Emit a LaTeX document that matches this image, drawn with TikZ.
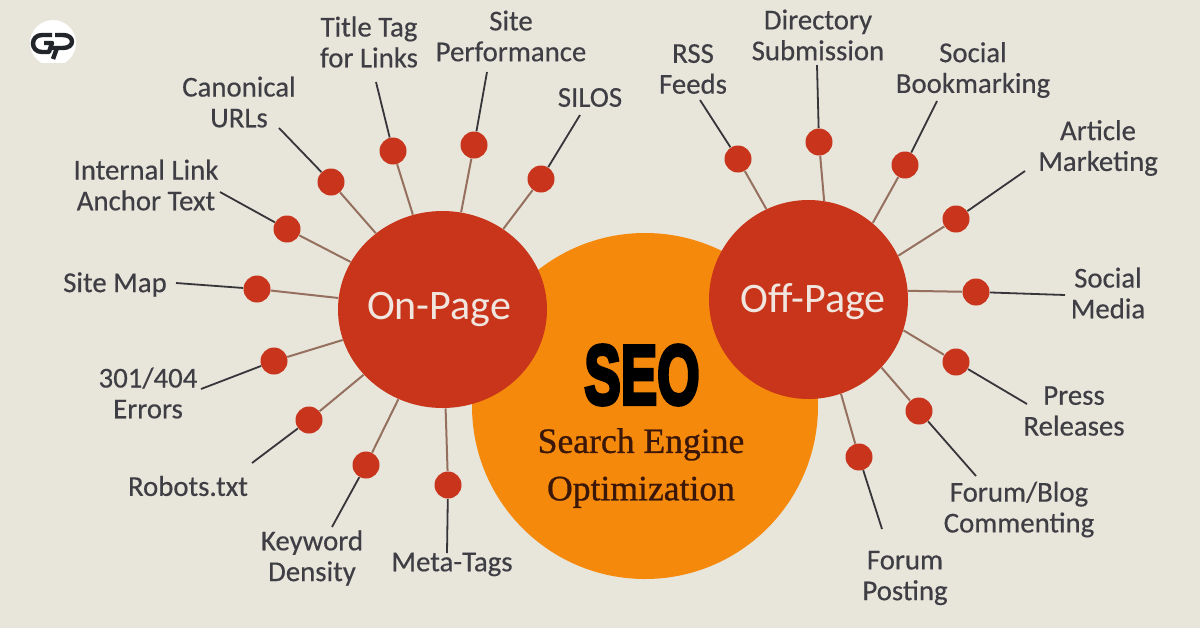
\documentclass[tikz,border=0pt]{standalone}
\usepackage{fontspec}
\usetikzlibrary{shapes.geometric}
\setmainfont[FakeBold=0.4]{Carlito}
\newfontfamily\hubfont{Carlito}
\newfontfamily\seofont[BoldFeatures={FakeBold=5}]{Liberation Sans}
\newfontfamily\titlefont[FakeBold=0.8]{Liberation Serif}
\definecolor{pagebg}{HTML}{E8E5DB}
\definecolor{hubred}{HTML}{C9351A}
\definecolor{seoorange}{HTML}{F5890C}
\definecolor{dotred}{HTML}{C8351C}
\definecolor{spokebrown}{HTML}{96705F}
\definecolor{leadergray}{HTML}{35353A}
\definecolor{labelgray}{HTML}{3E3E44}
\definecolor{logoblack}{HTML}{22252A}
\definecolor{hubtext}{HTML}{F0E6DF}
\definecolor{subbrown}{HTML}{3A1708}
\newcommand{\spokeleaf}[6]{
  \node[spokedot] (dot-#2) at (#3) {};
  \coordinate (end-#2) at (#4);
  \node[leaflabel] (label-#2) at (#5) {#6};
  \draw[spoke] (#1) -- (dot-#2);
  \draw[leader] (dot-#2) -- (end-#2);
}
\begin{document}
\begin{tikzpicture}[
        x=0.5pt,
        y=-0.5pt,
        hub/.style={ellipse,fill=hubred,inner sep=0pt},
        hubtextstyle/.style={text=hubtext,inner sep=0pt,font=\hubfont\fontsize{21}{24}\selectfont},
        spokedot/.style={circle,fill=dotred,inner sep=0pt,minimum size=13.5pt},
        spoke/.style={draw=spokebrown,line width=1pt},
        leader/.style={draw=leadergray,line width=0.9pt},
        leaflabel/.style={text=labelgray,align=center,inner sep=0pt,font=\fontsize{14.4}{15.4}\selectfont},
        logoline/.style={draw=logoblack,line width=2.2pt,line join=round}
      ]
        \fill[pagebg] (0,0) rectangle (1200,628);
        \begin{scope}
          \clip (0,0) rectangle (1200,62);
          \fill[white] (53,43) circle[radius=23];
        \end{scope}
        \draw[logoline] (52,35) -- (42,35) .. controls (30,35) and (30,52) .. (42,52) -- (49,52) -- (52,43) -- (44,43);
        \draw[logoline] (55,35) -- (63,35) .. controls (75,35) and (75,48) .. (63,48) -- (52,48);
        \draw[logoline] (57,48) -- (53,59);
        \node[circle,fill=seoorange,inner sep=0pt,minimum size=173pt] (seo) at (645,406) {};
        \node[hub,minimum width=104.5pt,minimum height=98.5pt] (onpage) at (442.5,309.5) {};
        \node[hub,minimum width=99.5pt,minimum height=99.5pt] (offpage) at (808.5,299.5) {};
        \node[hubtextstyle] (onpagetext) at (439,309) {On-Page};
        \node[hubtextstyle] (offpagetext) at (813,302) {Off-Page};
        \node[inner sep=0pt,font=\seofont\bfseries\fontsize{42}{44}\selectfont,xscale=0.65,text=black] (seotitle) at (642,375) {SEO};
        \node[inner sep=0pt,align=center,text=subbrown,font=\titlefont\fontsize{17.8}{23.7}\selectfont] (seosub) at (641,468) {Search Engine\\Optimization};
        \spokeleaf{onpage}{silos}{541,179}{580,115}{590,97.5}{SILOS}
        \spokeleaf{onpage}{perf}{474,145}{487,72}{511,36}{Site\\Performance}
        \spokeleaf{onpage}{title}{393,151}{376,82}{369,42}{Title Tag\\for Links}
        \spokeleaf{onpage}{canon}{331,182}{279,128}{239,102}{Canonical\\URLs}
        \spokeleaf{onpage}{anchor}{287,229}{220,192}{146,185}{Internal Link\\Anchor Text}
        \spokeleaf{onpage}{map}{257,289}{176,283}{115,284.5}{Site Map}
        \spokeleaf{onpage}{errors}{274,361}{201,389}{148,393}{301/404\\Errors}
        \spokeleaf{onpage}{robots}{309,420}{252,463}{188,486}{Robots.txt}
        \spokeleaf{onpage}{density}{366,465}{332,527}{312,558}{Keyword\\Density}
        \spokeleaf{onpage}{meta}{448,485}{447,553}{452,564.5}{Meta-Tags}
        \spokeleaf{offpage.115}{rss}{738,159}{700,100}{693,69}{RSS\\Feeds}
        \spokeleaf{offpage.81}{directory}{819,142}{817,65}{818,35}{Directory\\Submission}
        \spokeleaf{offpage.50}{bookmark}{905,165}{937,101}{973,70}{Social\\Bookmarking}
        \spokeleaf{offpage.26}{article}{956,219}{1025,171}{1098,148}{Article\\Marketing}
        \spokeleaf{offpage.5}{social}{976,292}{1065,295}{1108,293}{Social\\Media}
        \spokeleaf{offpage.-18}{press}{956,362}{1027,404}{1074,411}{Press\\Releases}
        \spokeleaf{offpage.-43}{blog}{919,411}{976,476}{1019,509.5}{Forum/Blog\\Commenting}
        \spokeleaf{offpage.-71}{posting}{859,457}{882,529}{905,578}{Forum\\Posting}
\end{tikzpicture}
\end{document}
